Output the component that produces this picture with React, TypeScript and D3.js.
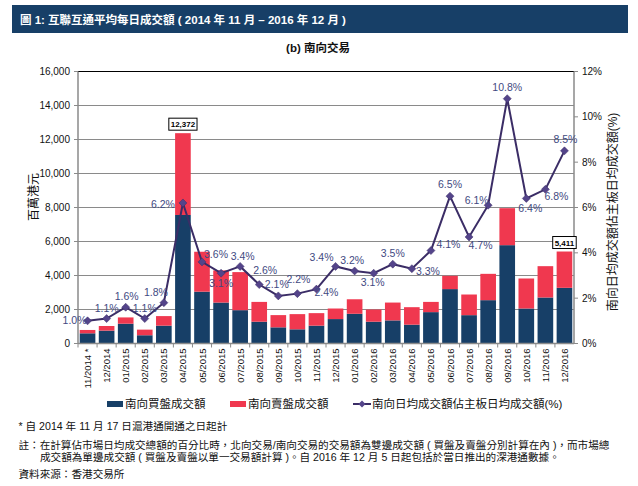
import React from 'react';
import * as d3 from 'd3';

const months = ['11/2014 *','12/2014','01/2015','02/2015','03/2015','04/2015','05/2015','06/2015','07/2015','08/2015','09/2015','10/2015','11/2015','12/2015','01/2016','02/2016','03/2016','04/2016','05/2016','06/2016','07/2016','08/2016','09/2016','10/2016','11/2016','12/2016'];
const buyValues = [600,757,1165,485,1049,7560,3049,2408,1961,1282,951,835,1049,1437,1748,1282,1359,1107,1845,3200,1667,2549,5784,2059,2706,3275];
const sellValues = [196,272,369,331,563,4812,2349,1892,2239,1165,719,893,737,621,854,718,1049,1029,602,781,1215,1549,2176,1765,1843,2136];
const shareValues = [1.0,1.1,1.6,1.1,1.8,6.2,3.6,3.1,3.4,2.6,2.1,2.2,2.4,3.4,3.2,3.1,3.5,3.3,4.1,6.5,4.7,6.1,10.8,6.4,6.8,8.5];
// label centre offsets (px) from each point, for placing the % annotations
const shareLabelOffsets: [number, number][] = [
  [-13, -1], [0, -10], [1, -10.5], [0, -10.5], [-8, -10], [-20, 1], [14, -8], [0, 9.6], [2.5, -10.3], [6, -14],
  [-1.5, -11.7], [1, -14.4], [10, 2.7], [-14, -9.4], [-2.5, -11], [-1, 9], [0, -11.3], [16, 2.7], [17.5, -6.5], [0, -12],
  [11.5, 8.6], [-11.5, -5], [0, -11.6], [4, 9.7], [11, 7.4], [1, -11.7],
];
const calloutMonths = ['04/2015','12/2016'];
const leftTicks = [0,2000,4000,6000,8000,10000,12000,14000,16000];
const rightTicks = [0,2,4,6,8,10,12];

const title = '圖 1:  互聯互通平均每日成交額 ( 2014 年 11 月 – 2016 年 12 月 )';
const subtitle = '(b) 南向交易';
const leftAxisTitle = '百萬港元';
const rightAxisTitle = '南向日均成交額佔主板日均成交額(%)';
const legendLabels = ['南向買盤成交額','南向賣盤成交額','南向日均成交額佔主板日均成交額(%)'];
const footnotes = [
  '* 自 2014 年 11 月 17 日滬港通開通之日起計',
  '註：在計算佔市場日均成交總額的百分比時，北向交易/南向交易的交易額為雙邊成交額 ( 買盤及賣盤分別計算在內 )，而市場總',
  '成交額為單邊成交額 ( 買盤及賣盤以單一交易額計算 )。自 2016 年 12 月 5 日起包括於當日推出的深港通數據。',
  '資料來源：香港交易所',
];

const FONT = '"Liberation Sans", Arial, "Noto Sans CJK TC", sans-serif';
const BLUE = '#173f67';
const RED = '#f0384f';
const LINE = '#3b2d66';
const MARK = '#54448a';
const LABEL = '#3f4a82';
const GRID = '#8a8a8a';

export default function App() {
  const W = 638, H = 486;
  const left = 78, right = 574, top = 71.5, bottom = 343.5;
  const x = d3.scaleBand<string>().domain(months).range([left, right]).paddingInner(0.18).paddingOuter(0.09);
  const y = d3.scaleLinear().domain([0, 16000]).range([bottom, top]);
  const y2 = d3.scaleLinear().domain([0, 12]).range([bottom, top]);
  const cx = (m: string) => (x(m) as number) + x.bandwidth() / 2;
  const lineGen = d3.line<number>().x((_, i) => cx(months[i])).y(d => y2(d));
  const fmt = d3.format(',');
  const gap = (x.step() - x.bandwidth()) / 2;

  return (
    <svg width={W} height={H} style={{ position: 'absolute', left: 0, top: 0, background: '#fff' }} fontFamily={FONT}>
      <rect x={12} y={5} width={616} height={28} fill="#173f67" />
      <text x={20} y={23.5} fill="#fff" fontSize={11.5} fontWeight="bold">{title}</text>
      <text x={318} y={52} textAnchor="middle" fontSize={11.5} fontWeight="bold" fill="#111">{subtitle}</text>

      {leftTicks.map(t => (
        <line key={'g' + t} x1={left} x2={right} y1={y(t)} y2={y(t)} stroke={t === 16000 ? '#000' : GRID} strokeWidth={1} />
      ))}

      {months.map((m, i) => (
        <g key={'b' + m}>
          <rect x={x(m)} width={x.bandwidth()} y={y(buyValues[i])} height={y(0) - y(buyValues[i])} fill={BLUE} />
          <rect x={x(m)} width={x.bandwidth()} y={y(buyValues[i] + sellValues[i])} height={y(buyValues[i]) - y(buyValues[i] + sellValues[i])} fill={RED} />
        </g>
      ))}

      <line x1={left} x2={left} y1={top} y2={bottom} stroke={GRID} strokeWidth={1.5} />
      <line x1={right} x2={right} y1={top} y2={bottom} stroke={GRID} strokeWidth={1.5} />
      <line x1={left} x2={right} y1={bottom} y2={bottom} stroke={GRID} strokeWidth={1.5} />
      {leftTicks.map(t => (
        <g key={'lt' + t}>
          <line x1={left - 4} x2={left} y1={y(t)} y2={y(t)} stroke={GRID} />
          <text x={70} y={y(t) + 3.5} textAnchor="end" fontSize={10} fill="#111">{fmt(t)}</text>
        </g>
      ))}
      {rightTicks.map(t => (
        <g key={'rt' + t}>
          <line x1={right} x2={right + 4} y1={y2(t)} y2={y2(t)} stroke={GRID} />
          <text x={right + 8} y={y2(t) + 3.5} textAnchor="start" fontSize={10} fill="#111">{t + '%'}</text>
        </g>
      ))}
      {months.map(m => (
        <line key={'xt' + m} x1={(x(m) as number) - gap} x2={(x(m) as number) - gap} y1={bottom} y2={bottom + 4} stroke={GRID} />
      ))}
      {months.map(m => (
        <text key={'xl' + m} transform={`translate(${cx(m) + 3.5},${bottom + 5}) rotate(-90)`} textAnchor="end" fontSize={9.5} fill="#111">{m}</text>
      ))}

      <text transform={`translate(38,197) rotate(-90)`} textAnchor="middle" fontSize={12} fill="#111">{leftAxisTitle}</text>
      <text transform={`translate(617,212) rotate(-90)`} textAnchor="middle" fontSize={12} fill="#111">{rightAxisTitle}</text>

      <path d={lineGen(shareValues) || ''} fill="none" stroke={LINE} strokeWidth={2} />
      {shareValues.map((v, i) => {
        const px = cx(months[i]), py = y2(v);
        return <path key={'m' + i} d={`M${px},${py - 4}L${px + 4},${py}L${px},${py + 4}L${px - 4},${py}Z`} fill={MARK} stroke={LINE} strokeWidth={0.5} />;
      })}
      {shareValues.map((v, i) => {
        const [dx, dy] = shareLabelOffsets[i];
        return <text key={'sl' + i} x={cx(months[i]) + dx} y={y2(v) + dy + 3.7} textAnchor="middle" fontSize={10.5} fill={LABEL}>{v.toFixed(1) + '%'}</text>;
      })}

      {calloutMonths.map(m => {
        const i = months.indexOf(m);
        const total = buyValues[i] + sellValues[i];
        const label = fmt(total);
        const w = label.length * 4.7;
        const bx = cx(m) - w / 2, by = y(total) - 15;
        return (
          <g key={'c' + m}>
            <rect x={bx} y={by} width={w} height={12} fill="#fff" stroke="#000" strokeWidth={1} />
            <text x={cx(m)} y={by + 9} textAnchor="middle" fontSize={8} fontWeight="bold" fill="#000">{label}</text>
          </g>
        );
      })}

      <rect x={107} y={401} width={16} height={6} fill={BLUE} />
      <text x={125} y={408} fontSize={11.5} fill="#111">{legendLabels[0]}</text>
      <rect x={230} y={401} width={16} height={6} fill={RED} />
      <text x={248} y={408} fontSize={11.5} fill="#111">{legendLabels[1]}</text>
      <line x1={353} x2={371} y1={404} y2={404} stroke={LINE} strokeWidth={2} />
      <path d="M362,400.5L365.5,404L362,407.5L358.5,404Z" fill={MARK} />
      <text x={372} y={408} fontSize={11.5} fill="#111">{legendLabels[2]}</text>

      <text x={18.5} y={430} fontSize={10.6} fill="#111">{footnotes[0]}</text>
      <text x={18.5} y={448.5} fontSize={10.6} fill="#111">{footnotes[1]}</text>
      <text x={40} y={460.5} fontSize={10.6} fill="#111">{footnotes[2]}</text>
      <text x={18.5} y={477.5} fontSize={10.6} fill="#111">{footnotes[3]}</text>
    </svg>
  );
}
